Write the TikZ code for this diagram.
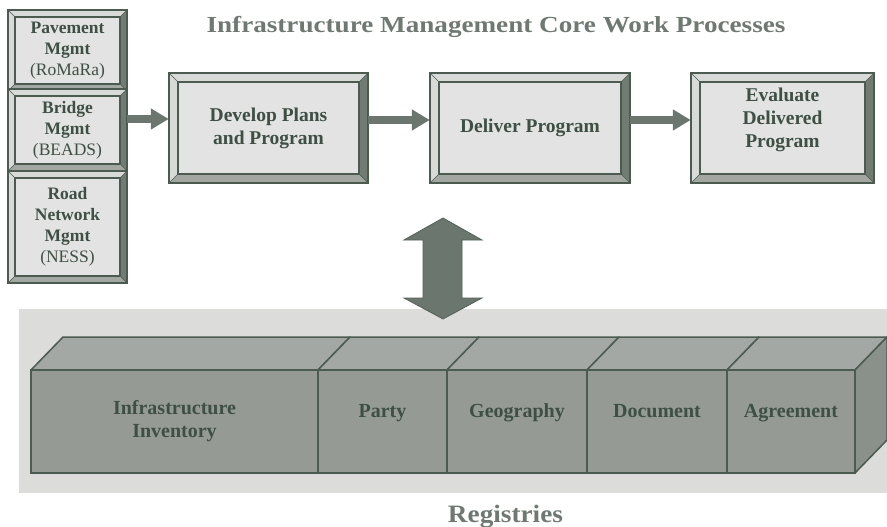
\documentclass[tikz,border=0pt]{standalone}
\usepackage{fontspec}
\setmainfont{Liberation Serif}
\usetikzlibrary{arrows.meta,calc}
\definecolor{edgec}{HTML}{4B5B50}
\definecolor{facec}{HTML}{E3E3E3}
\definecolor{bevtop}{HTML}{D8DAD8}
\definecolor{bevbot}{HTML}{A2A7A2}
\definecolor{bevright}{HTML}{717B73}
\definecolor{txtc}{HTML}{3E4F44}
\definecolor{titlec}{HTML}{6F7972}
\definecolor{bgc}{HTML}{DCDDDB}
\definecolor{frontc}{HTML}{959A95}
\definecolor{topc}{HTML}{A4A8A4}
\definecolor{sidec}{HTML}{8A908A}
\definecolor{arrc}{HTML}{6B776E}
\tikzset{
  boxtxt/.style={text=txtc, align=center, font=\fontsize{19.5}{23}\selectfont\bfseries, inner sep=0pt},
  stacktxt/.style={text=txtc, align=center, font=\fontsize{17.5}{21}\selectfont\bfseries, inner sep=0pt},
  flow/.style={draw=arrc, line width=7pt, -{Triangle[length=18pt,width=20pt]}},
  regface/.style={draw=edgec, line width=1.5pt, fill=frontc, inner sep=0pt, minimum height=103pt,
     text=txtc, font=\fontsize{20}{23}\selectfont\bfseries, align=center},
  regone/.style={text height=14pt, text depth=23pt},
}
% name, style, x1, y1, x2, y2, bevel, text
\newcommand\bevbox[8]{%
  \fill[bevtop] (#3,#4) -- (#5,#4) -- (#5-#7,#4+#7) -- (#3+#7,#4+#7) -- cycle;
  \fill[bevtop] (#3,#4) -- (#3+#7,#4+#7) -- (#3+#7,#6-#7) -- (#3,#6) -- cycle;
  \fill[bevbot] (#3,#6) -- (#3+#7,#6-#7) -- (#5-#7,#6-#7) -- (#5,#6) -- cycle;
  \fill[bevright] (#5,#4) -- (#5-#7,#4+#7) -- (#5-#7,#6-#7) -- (#5,#6) -- cycle;
  \draw[edgec, line width=0.6pt] (#3,#4) -- (#3+#7,#4+#7) (#5,#4) -- (#5-#7,#4+#7)
     (#3,#6) -- (#3+#7,#6-#7) (#5,#6) -- (#5-#7,#6-#7);
  \draw[edgec, line width=1.4pt, fill=facec] (#3+#7,#4+#7) rectangle (#5-#7,#6-#7);
  \draw[edgec, line width=1.4pt] (#3,#4) rectangle (#5,#6);
  \node[#2, minimum width={(#5-#3)*1pt}, minimum height={(#6-#4)*1pt}] (#1)
     at ({(#3+#5)/2},{(#4+#6)/2}) {#8};
}
\begin{document}
\begin{tikzpicture}[x=1pt,y=-1pt]
\useasboundingbox (0,0) rectangle (887,527);
% title
\node[text=titlec, font=\fontsize{23}{26}\selectfont\bfseries, anchor=base] (title) at (496,33)
  {\scalebox{1.18}[1]{Infrastructure Management Core Work Processes}};
% left stack
\bevbox{pav}{stacktxt}{8}{10}{127}{91}{7}{Pavement\\Mgmt\\{\mdseries (RoMaRa)}}
\bevbox{bridge}{stacktxt}{8}{89}{127}{171}{7}{Bridge\\Mgmt\\{\mdseries (BEADS)}}
\bevbox{road}{stacktxt}{8}{171}{127}{283}{7}{Road\\Network\\Mgmt\\{\mdseries (NESS)}}
% process boxes
\bevbox{dev}{boxtxt}{169}{73}{368}{183}{9}{Develop Plans\\and Program}
\bevbox{del}{boxtxt}{430}{73}{630}{183}{9}{Deliver Program}
\bevbox{eval}{boxtxt, yshift=8pt}{691}{73}{874}{183}{9}{Evaluate\\Delivered\\Program}
% flows
\draw[flow] ([yshift=11pt]bridge.east) -- ([yshift=9pt]dev.west);
\draw[flow] ([yshift=8pt]dev.east) -- ([yshift=8pt]del.west);
\draw[flow] ([yshift=8pt]del.east) -- (eval.west);
% registries background
\fill[bgc] (19,309) rectangle (887,493);
% double arrow
\draw[draw=edgec!80!arrc, line width=0.8pt, fill=arrc, line join=miter]
  (443,218) -- (482,240) -- (462,240) -- (462,298) -- (482,298) -- (443,319)
  -- (404,298) -- (423,298) -- (423,240) -- (404,240) -- cycle;
% 3D registry blocks: top faces
\foreach \a/\b in {31/318,318/447,447/587,587/727,727/855}{
  \draw[edgec, line width=1.5pt, fill=topc, line join=round] (\a,370) -- (\a+32,337) -- (\b+32,337) -- (\b,370) -- cycle;
}
\draw[edgec, line width=1.5pt, fill=sidec, line join=round] (855,370) -- (887,337) -- (887,440) -- (855,473) -- cycle;
% front faces
\node[regface, minimum width=287pt] (inv) at (174.5,421.5) {Infrastructure\\Inventory};
\node[regface, regone, minimum width=129pt] (party) at (382.5,421.5) {Party};
\node[regface, regone, minimum width=140pt] (geo) at (517,421.5) {Geography};
\node[regface, regone, minimum width=140pt] (doc) at (657,421.5) {Document};
\node[regface, regone, minimum width=128pt] (agr) at (791,421.5) {Agreement};
% caption
\node[text=titlec, font=\fontsize{25}{28}\selectfont\bfseries, anchor=base] (reg) at (505.5,522)
  {\scalebox{1.09}[1]{Registries}};
\end{tikzpicture}
\end{document}
